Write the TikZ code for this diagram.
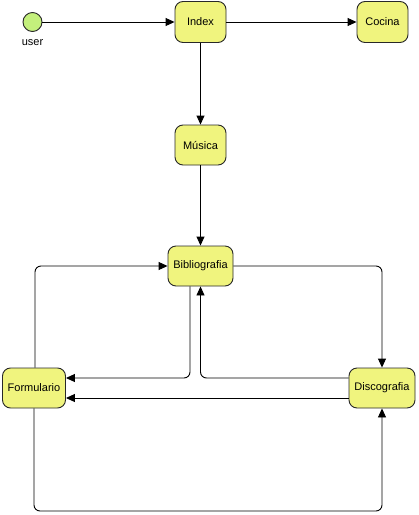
\documentclass[tikz,border=0pt]{standalone}
\usepackage{fontspec}
\setmainfont{Liberation Sans}
\usetikzlibrary{arrows.meta}
\definecolor{boxfill}{RGB}{240,244,126}
\definecolor{startfill}{RGB}{196,240,124}
\definecolor{edge}{RGB}{40,40,40}
\begin{document}
\begin{tikzpicture}[x=1pt,y=-1pt,
  state/.style={draw=edge, line width=0.9pt, fill=boxfill, rounded corners=8pt,
    inner sep=0pt, font=\fontsize{11}{13}\selectfont, align=center},
  conn/.style={draw=black, line width=0.9pt, rounded corners=6pt,
    -{Triangle[length=9pt,width=8pt]}}]
\useasboundingbox (0,0) rectangle (419,515);
\fill[white] (0,0) rectangle (419,515);
% start
\node[circle, draw=edge, line width=0.9pt, fill=startfill, minimum size=19pt, inner sep=0pt] (start) at (32.5,22) {};
\node[font=\fontsize{11}{13}\selectfont, anchor=north] (userlbl) at (32.5,36) {user};
% states
\node[state, minimum width=51pt, minimum height=41pt] (index) at (200.5,22) {Index};
\node[state, minimum width=51pt, minimum height=41pt] (cocina) at (382.5,22) {Cocina};
\node[state, minimum width=51pt, minimum height=40pt] (musica) at (200.5,145) {Música};
\node[state, minimum width=65pt, minimum height=40pt] (biblio) at (200.5,266) {Bibliografia};
\node[state, minimum width=63pt, minimum height=40pt] (form) at (34,388) {Formulario};
\node[state, minimum width=66pt, minimum height=40pt] (disco) at (382,388) {Discografia};
% connectors
\draw[conn] (start) -- (index);
\draw[conn] (index) -- (cocina);
\draw[conn] (index) -- (musica);
\draw[conn] (musica) -- (biblio);
\draw[conn] (form.north -| 35,0) |- (biblio.west);
\draw[conn] (biblio.east) -| (disco.north);
\draw[conn] (biblio.south -| 190,0) |- (form.east |- 0,378);
\draw[conn] (disco.west |- 0,378) -| (biblio.south -| 200.5,0);
\draw[conn] (disco.west |- 0,398) -- (form.east |- 0,398);
\draw[conn] (form.south -| 34,0) -- (34,511) -| (disco.south);
\end{tikzpicture}
\end{document}
